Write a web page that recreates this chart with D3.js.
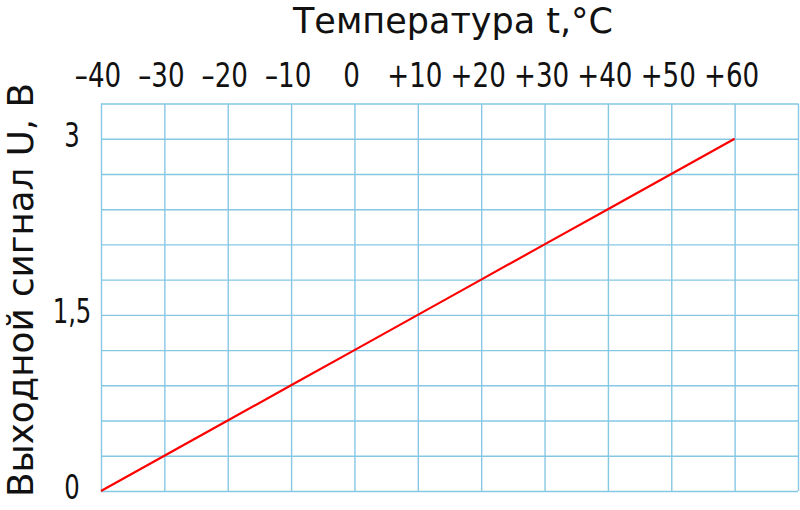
<!DOCTYPE html>
<html>
<head>
<meta charset="utf-8">
<script src="https://cdn.jsdelivr.net/npm/d3@7"></script>
<style>
  body { margin: 0; background: #fff; }
  text { font-family: "DejaVu Sans Condensed", "Liberation Sans Narrow", sans-serif; fill: #111; }
</style>
</head>
<body>
<div id="chart"></div>
<script>
// values
var temps = [-40, -30, -20, -10, 0, 10, 20, 30, 40, 50, 60];
var volts = [0, 0.3, 0.6, 0.9, 1.2, 1.5, 1.8, 2.1, 2.4, 2.7, 3.0];
var xTickLabels = ["–40", "–30", "–20", "–10", "0", "+10", "+20", "+30", "+40", "+50", "+60"];
var yTicks = [0, 1.5, 3];
var yTickLabels = ["0", "1,5", "3"];
var xGridTicks = [-40, -30, -20, -10, 0, 10, 20, 30, 40, 50, 60, 70];
var yGridTicks = [0, 0.3, 0.6, 0.9, 1.2, 1.5, 1.8, 2.1, 2.4, 2.7, 3.0, 3.3];

var width = 800, height = 510;
var margin = {top: 103.5, right: 2, bottom: 19, left: 101};
var gridColor = "#86c8e4";

var svg = d3.select("#chart")
    .append("svg")
    .attr("width", width)
    .attr("height", height);

// the drawing font is narrow, so squeeze each label horizontally
function squeeze(sel, k) {
  sel.each(function() {
    var len = this.getComputedTextLength();
    d3.select(this)
      .attr("textLength", len * k)
      .attr("lengthAdjust", "spacingAndGlyphs");
  });
}

// scales
var xScale = d3.scaleLinear()
    .domain([-40, 70])
    .range([margin.left, width - margin.right]);

var yScale = d3.scaleLinear()
    .domain([0, 3.3])
    .range([height - margin.bottom, margin.top]);

// vertical grid lines
var xGrid = d3.axisTop(xScale)
    .tickValues(xGridTicks)
    .tickSize(-(yScale(0) - yScale(3.3)))
    .tickFormat("");
svg.append("g")
    .attr("transform", "translate(0," + yScale(3.3) + ")")
    .call(xGrid)
    .call(function(g) { g.select(".domain").remove(); })
    .selectAll("line")
    .attr("stroke", gridColor)
    .attr("stroke-width", 1.4);

// horizontal grid lines
var yGrid = d3.axisLeft(yScale)
    .tickValues(yGridTicks)
    .tickSize(-(xScale(70) - xScale(-40)))
    .tickFormat("");
svg.append("g")
    .attr("transform", "translate(" + xScale(-40) + ",0)")
    .call(yGrid)
    .call(function(g) { g.select(".domain").remove(); })
    .selectAll("line")
    .attr("stroke", gridColor)
    .attr("stroke-width", 1.4);

// top axis labels
var xAxis = d3.axisTop(xScale)
    .tickValues(temps)
    .tickSize(0)
    .tickPadding(16.5)
    .tickFormat(function(d, i) { return xTickLabels[i]; });
var gX = svg.append("g")
    .attr("transform", "translate(0," + yScale(3.3) + ")")
    .call(xAxis);
gX.select(".domain").remove();
gX.selectAll("text")
    .attr("font-size", 33)
    .attr("font-family", null)
    .attr("dx", -3.5)
    .call(squeeze, 0.88);

// left axis labels
var yAxis = d3.axisLeft(yScale)
    .tickValues(yTicks)
    .tickSize(0)
    .tickFormat(function(d, i) { return yTickLabels[i]; });
var gY = svg.append("g")
    .attr("transform", "translate(" + xScale(-40) + ",0)")
    .call(yAxis);
gY.select(".domain").remove();
gY.selectAll("text")
    .attr("font-size", 33)
    .attr("font-family", null)
    .attr("text-anchor", "middle")
    .attr("x", -29)
    .attr("y", -3)
    .call(squeeze, 0.82);

// the signal line
var line = d3.line()
    .x(function(d, i) { return xScale(temps[i]); })
    .y(function(d) { return yScale(d); });

svg.append("path")
    .datum(volts)
    .attr("fill", "none")
    .attr("stroke", "#ff0000")
    .attr("stroke-width", 2.2)
    .attr("d", line);

// titles
svg.append("text")
    .attr("x", 453)
    .attr("y", 33)
    .attr("text-anchor", "middle")
    .attr("font-size", 35)
    .attr("textLength", 320)
    .attr("lengthAdjust", "spacingAndGlyphs")
    .text("Температура t,°C");

svg.append("text")
    .attr("transform", "translate(33,290) rotate(-90)")
    .attr("text-anchor", "middle")
    .attr("font-size", 36)
    .attr("textLength", 414)
    .attr("lengthAdjust", "spacingAndGlyphs")
    .text("Выходной сигнал U, В");
</script>
</body>
</html>
